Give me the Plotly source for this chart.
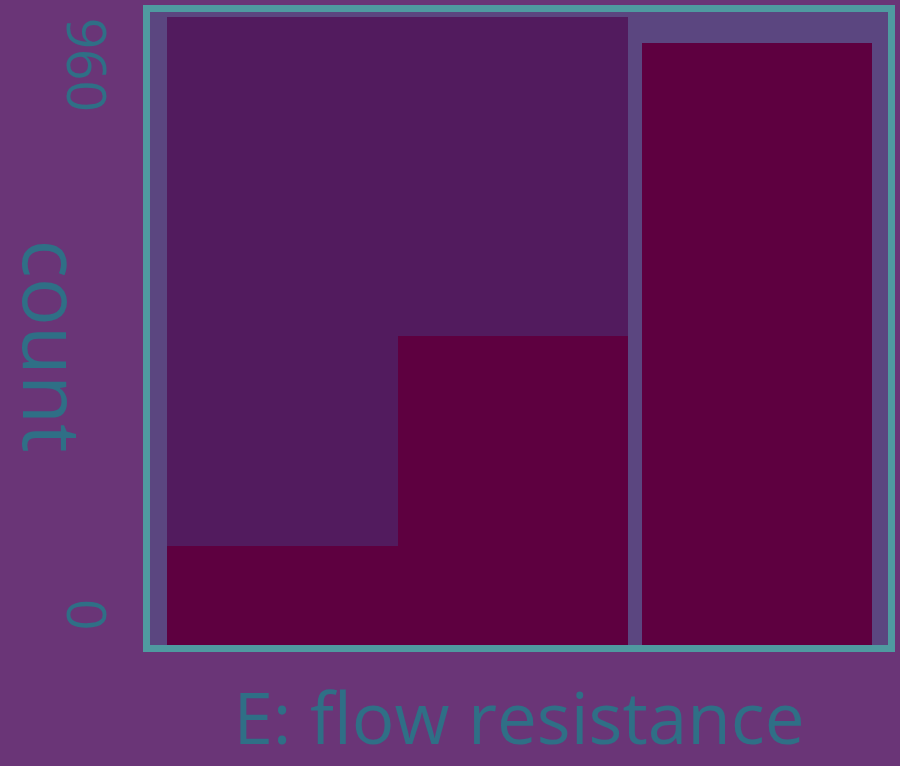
import plotly.graph_objects as go

# ---- data ----
bin_start = [0.0, 1.0, 2.06]      # left edge of each histogram bin (bin units)
bin_width = [1.0, 1.0, 1.0]
count_low = [172, 540, 1051]      # magenta (lower) series
count_high = [924, 556, 0]        # purple (upper) series
y_ticks = [0, 960]
y_tick_text = ["0", "960"]
x_title = "E: flow resistance"
y_title = "count"

centers = [s + w / 2 for s, w in zip(bin_start, bin_width)]

BG = "#6a3577"
PLOT_BG = "#5b4680"
LINE = "#4f9aa0"
TEXT = "#2f6f86"
MAG = "#5e0040"
PUR = "#521b5e"

fig = go.Figure()
fig.add_trace(go.Bar(x=centers, y=count_low, width=bin_width, marker_color=MAG,
                     marker_line_width=0, showlegend=False))
fig.add_trace(go.Bar(x=centers, y=count_high, width=bin_width, marker_color=PUR,
                     marker_line_width=0, showlegend=False))

fig.update_layout(
    width=900, height=766,
    barmode="stack", bargap=0,
    paper_bgcolor=BG, plot_bgcolor=PLOT_BG,
    margin=dict(l=150, r=12, t=5, b=121),
    font=dict(family="Open Sans", color=TEXT),
    showlegend=False,
)
fig.update_xaxes(range=[bin_start[0] - 0.075, bin_start[-1] + bin_width[-1] + 0.07],
                 showticklabels=False, ticks="", showgrid=False, zeroline=False,
                 showline=True, linecolor=LINE, linewidth=7, mirror=True,
                 title=dict(text=x_title, font=dict(size=71, color=TEXT), standoff=46))
fig.update_yaxes(range=[0, 1105], tickvals=y_ticks, ticktext=y_tick_text,
                 tickangle=90, tickfont=dict(size=55, color=TEXT), ticks="",
                 ticklabelshift=-22, ticklabelstandoff=10,
                 showgrid=False, zeroline=False,
                 showline=True, linecolor=LINE, linewidth=7, mirror=True)
fig.add_annotation(text=y_title, xref="paper", yref="paper", x=-0.129, y=0.472,
                   xanchor="center", yanchor="middle", textangle=90, showarrow=False,
                   font=dict(size=80, color=TEXT))

fig.write_html("out.html")
